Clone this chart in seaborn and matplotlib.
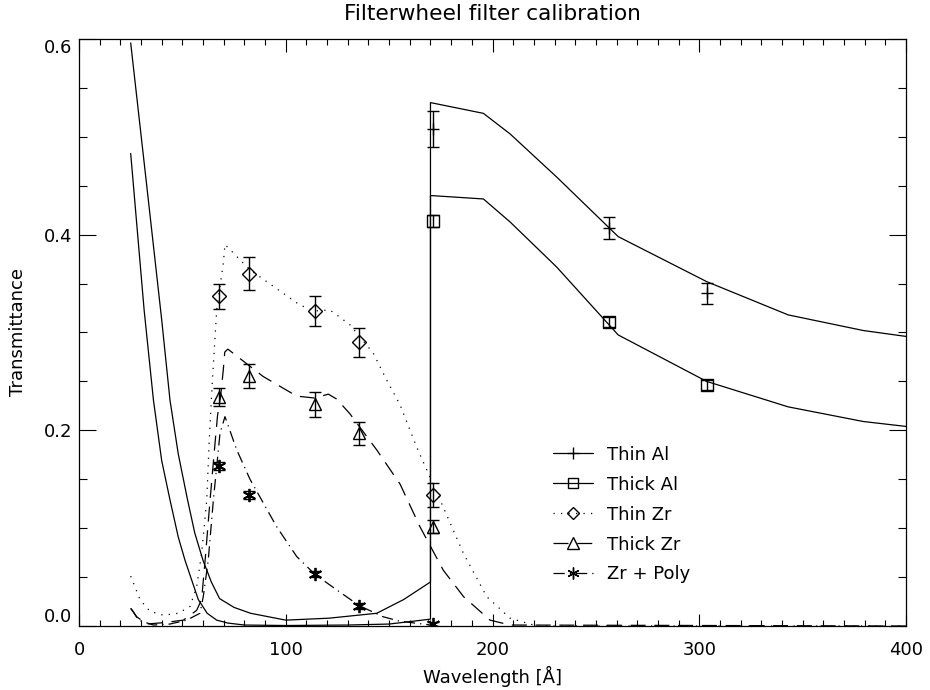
import numpy as np
import pandas as pd
import seaborn as sns
import matplotlib.pyplot as plt
from matplotlib.lines import Line2D
from matplotlib.ticker import MultipleLocator

# model transmission curves
thin_al_wl = [25, 32.5, 40, 44, 48, 52.5, 56, 60, 64, 68, 75, 83, 100, 121, 144, 157, 170,
              170, 195.6, 208.5, 231, 260.8, 303.6, 343, 379.4, 400]
thin_al_tr = [0.596, 0.455, 0.313, 0.231, 0.176, 0.129, 0.095, 0.067, 0.045, 0.028, 0.019, 0.013, 0.006,
              0.008, 0.013, 0.027, 0.045, 0.535, 0.524, 0.503, 0.459, 0.398, 0.352, 0.318, 0.302, 0.296]

thick_al_wl = [25, 31.5, 36, 40, 44, 48, 51.3, 57.7, 62, 66.6, 72, 80, 100, 130, 150, 170,
               170, 195.6, 208.5, 231, 260.8, 303.6, 343, 379.4, 400]
thick_al_tr = [0.483, 0.323, 0.231, 0.169, 0.129, 0.091, 0.067, 0.027, 0.013, 0.006, 0.003, 0.001, 0.0005,
               0.001, 0.002, 0.007, 0.440, 0.4365, 0.413, 0.367, 0.2975, 0.250, 0.224, 0.209, 0.204]

thin_zr_wl = [25, 29.5, 34.3, 40.8, 48, 53.7, 56.9, 59.3, 61.8, 63, 64.5, 66.6, 69.8, 70.6, 82.7,
              106.9, 114, 121.4, 131, 142.3, 148.8, 155.3, 163.3, 174.6, 186, 197.2, 208.5, 221.4, 400]
thin_zr_tr = [0.051, 0.027, 0.015, 0.011, 0.013, 0.020, 0.040, 0.074, 0.129, 0.19, 0.25, 0.323, 0.371, 0.390,
              0.364, 0.328, 0.322, 0.323, 0.308, 0.279, 0.2515, 0.226, 0.183, 0.129, 0.074, 0.030, 0.008, 0.0, 0.0]

thick_zr_wl = [25, 27.9, 32.7, 40.8, 50.5, 56.9, 59.3, 61, 63.4, 65.8, 67, 68.5, 69.8, 70.5, 72,
               89.1, 105.3, 114, 120.6, 124.6, 131, 144, 155.3, 164.9, 176.2, 186, 198.8, 208.5, 400]
thick_zr_tr = [0.018, 0.0095, 0.002, 0.0034, 0.006, 0.016, 0.027, 0.067, 0.129, 0.187, 0.215, 0.235, 0.262,
               0.280, 0.283, 0.255, 0.235, 0.233, 0.237, 0.232, 0.217, 0.18, 0.145, 0.1015, 0.057, 0.030,
               0.006, 0.001, 0.0]

zr_poly_wl = [25, 26.3, 28.7, 36, 44, 52.1, 58.5, 60.1, 62.5, 65, 68.2, 70.6, 76.3, 82.7, 95.6,
              105.3, 114, 124.6, 135.4, 147, 155, 170]
zr_poly_tr = [0.018, 0.0146, 0.006, 0.001, 0.002, 0.006, 0.013, 0.03, 0.067, 0.129, 0.197, 0.214, 0.18,
              0.150, 0.1015, 0.071, 0.053, 0.037, 0.021, 0.0095, 0.005, 0.001]

# measured points with error bars
al_pts_wl = [171.2, 256.3, 303.8]
thin_al_pts = [0.508, 0.407, 0.340]
thin_al_err = [0.018, 0.0114, 0.011]
thick_al_pts = [0.414, 0.311, 0.246]
thick_al_err = [0.006, 0.005, 0.005]

zr_pts_wl = [67.7, 82.1, 114.0, 135.4, 171.4]
thin_zr_pts = [0.337, 0.360, 0.322, 0.290, 0.134]
thin_zr_err = [0.013, 0.017, 0.015, 0.015, 0.012]
thick_zr_pts = [0.234, 0.2555, 0.2266, 0.197, 0.1015]
thick_zr_err = [0.009, 0.012, 0.013, 0.012, 0.0065]
zr_poly_pts = [0.1635, 0.134, 0.0528, 0.0208, 0.002]
zr_poly_err = [0.004, 0.004, 0.003, 0.003, 0.002]

names = ['Thin Al', 'Thick Al', 'Thin Zr', 'Thick Zr', 'Zr + Poly']

sns.set_style('ticks', {'axes.edgecolor': 'black', 'text.color': 'black',
                        'axes.labelcolor': 'black', 'xtick.color': 'black',
                        'ytick.color': 'black'})
plt.rcParams['font.family'] = ['DejaVu Sans']
plt.rcParams['font.size'] = 13

curves = pd.concat([
    pd.DataFrame({'wavelength': thin_al_wl, 'transmittance': thin_al_tr, 'filter': 'Thin Al'}),
    pd.DataFrame({'wavelength': thick_al_wl, 'transmittance': thick_al_tr, 'filter': 'Thick Al'}),
    pd.DataFrame({'wavelength': thin_zr_wl, 'transmittance': thin_zr_tr, 'filter': 'Thin Zr'}),
    pd.DataFrame({'wavelength': thick_zr_wl, 'transmittance': thick_zr_tr, 'filter': 'Thick Zr'}),
    pd.DataFrame({'wavelength': zr_poly_wl, 'transmittance': zr_poly_tr, 'filter': 'Zr + Poly'}),
], ignore_index=True)

dash_map = {'Thin Al': '', 'Thick Al': '', 'Thin Zr': (1, 5),
            'Thick Zr': (12, 7), 'Zr + Poly': (9, 4, 1, 4)}
marker_map = {'Thin Al': '+', 'Thick Al': 's', 'Thin Zr': 'D',
              'Thick Zr': '^', 'Zr + Poly': (6, 2, 0)}
msize = {'Thin Al': 9, 'Thick Al': 8.5, 'Thin Zr': 6.8, 'Thick Zr': 9, 'Zr + Poly': 9.5}

fig = plt.figure(figsize=(9.3, 6.9), dpi=100)
ax = fig.add_axes([79 / 930, 64 / 690, 827 / 930, 587 / 690])

sns.lineplot(data=curves, x='wavelength', y='transmittance', style='filter',
             dashes=dash_map, color='black', sort=False, estimator=None,
             linewidth=0.9, legend=False, ax=ax)

points = [
    ('Thin Al', al_pts_wl, thin_al_pts, thin_al_err),
    ('Thick Al', al_pts_wl, thick_al_pts, thick_al_err),
    ('Thin Zr', zr_pts_wl, thin_zr_pts, thin_zr_err),
    ('Thick Zr', zr_pts_wl, thick_zr_pts, thick_zr_err),
    ('Zr + Poly', zr_pts_wl, zr_poly_pts, zr_poly_err),
]
for name, xs, ys, es in points:
    ax.errorbar(xs, ys, yerr=es, fmt='none', ecolor='black', elinewidth=1.0,
                capsize=4, capthick=1.0)
    ax.plot(xs, ys, linestyle='none', marker=marker_map[name], ms=msize[name],
            mfc='none', mec='black', mew=1.3 if name == 'Zr + Poly' else 1.0)

ax.set_xlim(0, 400)
ax.set_ylim(0, 0.6)
ax.set_xticks([0, 100, 200, 300, 400])
ax.set_yticks([0, 0.2, 0.4, 0.6])
ax.set_yticklabels(['0.0', '0.2', '0.4', '0.6'])
ax.xaxis.set_minor_locator(MultipleLocator(10))
ax.yaxis.set_minor_locator(MultipleLocator(0.05))
ax.tick_params(axis='both', which='both', direction='in', top=True, right=True,
               width=0.8, color='black', labelcolor='black')
ax.tick_params(axis='x', which='major', length=9, pad=11)
ax.tick_params(axis='x', which='minor', length=4.5)
ax.tick_params(axis='y', which='major', length=12, pad=5)
ax.tick_params(axis='y', which='minor', length=6)
for sp in ax.spines.values():
    sp.set_linewidth(0.9)
    sp.set_color('black')

ylabs = ax.get_yticklabels()
ylabs[0].set_va('bottom')
ylabs[-1].set_va('top')

ax.set_xlabel('Wavelength [Å]', labelpad=5)
ax.set_ylabel('Transmittance', labelpad=12)
ax.set_title('Filterwheel filter calibration', pad=14)

handles = []
for name in names:
    ls = '-' if dash_map[name] == '' else (0, dash_map[name])
    handles.append(Line2D([], [], color='black', lw=0.9, linestyle=ls,
                          marker=marker_map[name], ms=msize[name] * 0.9,
                          mfc='none', mec='black', mew=1.0))
ax.legend(handles, names, loc='upper left', bbox_to_anchor=(0.573, 0.307),
          frameon=False, borderpad=0, borderaxespad=0, handlelength=2.2,
          handletextpad=0.8, labelspacing=0.66, fontsize=13)

fig.savefig('out.png', dpi=100)
